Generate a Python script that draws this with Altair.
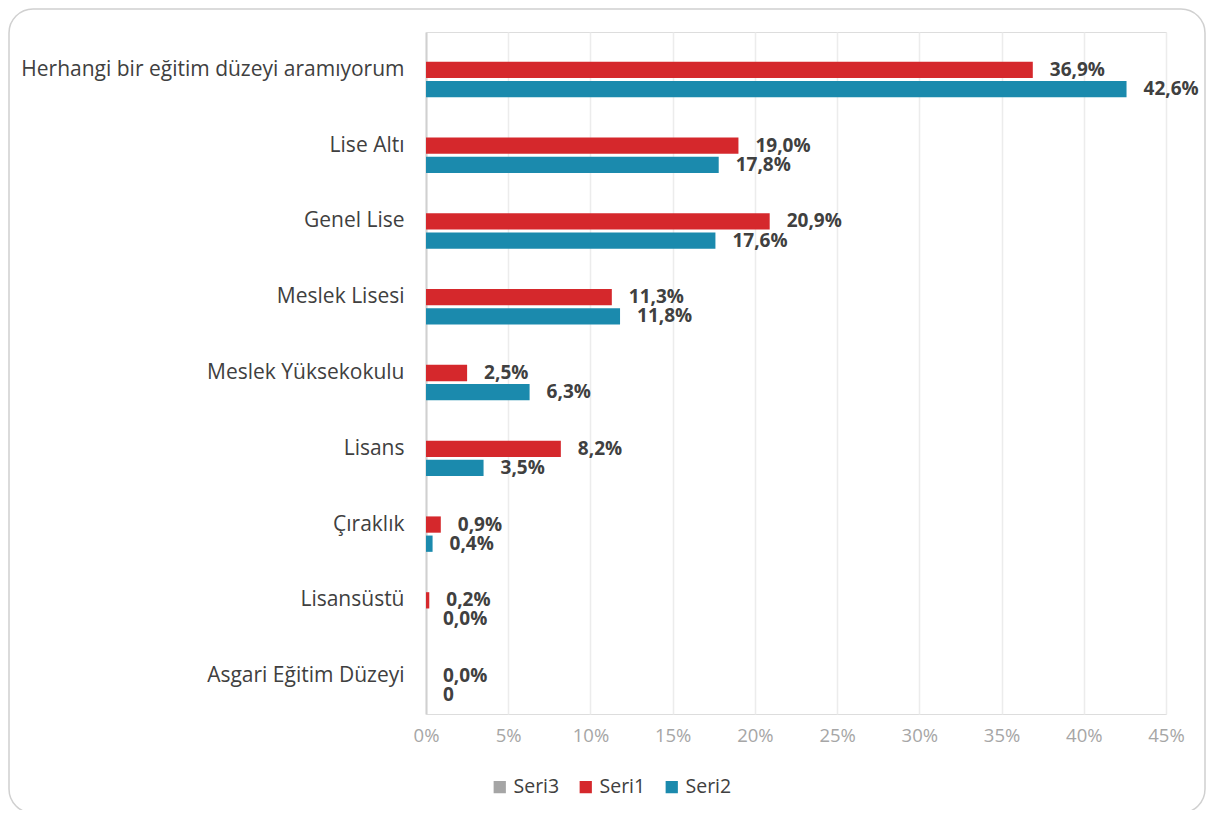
import altair as alt
import pandas as pd

categories = [
    "Herhangi bir eğitim düzeyi aramıyorum",
    "Lise Altı",
    "Genel Lise",
    "Meslek Lisesi",
    "Meslek Yüksekokulu",
    "Lisans",
    "Çıraklık",
    "Lisansüstü",
    "Asgari Eğitim Düzeyi",
]
series = ["Seri3", "Seri1", "Seri2"]
seri1 = [36.9, 19.0, 20.9, 11.3, 2.5, 8.2, 0.9, 0.2, 0.0]
seri2 = [42.6, 17.8, 17.6, 11.8, 6.3, 3.5, 0.4, 0.0, 0.0]
seri3 = [0, 0, 0, 0, 0, 0, 0, 0, 0]
seri1_labels = ["36,9%", "19,0%", "20,9%", "11,3%", "2,5%", "8,2%", "0,9%", "0,2%", "0,0%"]
seri2_labels = ["42,6%", "17,8%", "17,6%", "11,8%", "6,3%", "3,5%", "0,4%", "0,0%", "0"]
seri3_labels = [""] * 9
x_ticks = [0, 5, 10, 15, 20, 25, 30, 35, 40, 45]
colors = ["#a5a5a5", "#d5282c", "#1b8aad"]

rows = []
for s, vals, labs in [("Seri3", seri3, seri3_labels), ("Seri1", seri1, seri1_labels), ("Seri2", seri2, seri2_labels)]:
    for c, v, l in zip(categories, vals, labs):
        rows.append({"cat": c, "series": s, "value": v, "label": l})
df = pd.DataFrame(rows)

FONT = "Open Sans"
W, H = 740, 682

y_enc = alt.Y("cat:N", sort=categories, title=None,
              scale=alt.Scale(paddingInner=0.28, paddingOuter=0.14),
              axis=alt.Axis(labelFontSize=21, labelColor="#404040", labelFont=FONT,
                            labelPadding=22, ticks=False, domain=True,
                            domainColor="#d0d0d0", domainWidth=2, labelLimit=500))
yoff = alt.YOffset("series:N", scale=alt.Scale(domain=series, paddingInner=0.15))
x_enc = alt.X("value:Q", title=None,
              scale=alt.Scale(domain=[0, 45], nice=False),
              axis=alt.Axis(values=x_ticks, labelExpr="datum.value + '%'",
                            grid=True, gridColor="#ececec", gridWidth=1.5,
                            domain=False, ticks=False, labelColor="#a6a6a6",
                            labelFontSize=18.5, labelFont=FONT, labelPadding=12,
                            labelFlush=False))

base = alt.Chart(df)

bars = base.mark_bar().encode(
    x=x_enc, y=y_enc, yOffset=yoff,
    color=alt.Color("series:N", scale=alt.Scale(domain=series, range=colors),
                    legend=alt.Legend(title=None, orient="none", legendX=64, legendY=745,
                                      direction="horizontal", symbolType="square",
                                      symbolSize=150, labelFontSize=19.5, labelColor="#404040",
                                      labelFont=FONT, columnPadding=16, labelOffset=4,
                                      symbolStrokeWidth=0)),
)

text = base.mark_text(align="left", baseline="middle", dx=17, fontSize=19,
                      fontWeight="bold", color="#404040", font=FONT).encode(
    x="value:Q", y=alt.Y("cat:N", sort=categories), yOffset=yoff, text="label:N"
).transform_filter("datum.series != 'Seri3'")

border = alt.Chart(pd.DataFrame({"a": [0]})).mark_rect(
    fill="transparent", stroke="#d0d0d0", strokeWidth=1.5, cornerRadius=24
).encode(x=alt.value(-417), x2=alt.value(779), y=alt.value(-23), y2=alt.value(781))

chart = alt.layer(border, bars, text).properties(
    width=W, height=H,
    autosize=alt.AutoSizeParams(type="none"),
    padding={"left": 418, "top": 24, "right": 40, "bottom": 96},
).configure_view(stroke=None).configure(font=FONT, background="white")

chart.save("out.html", embed_options={"renderer": "svg", "actions": False})
